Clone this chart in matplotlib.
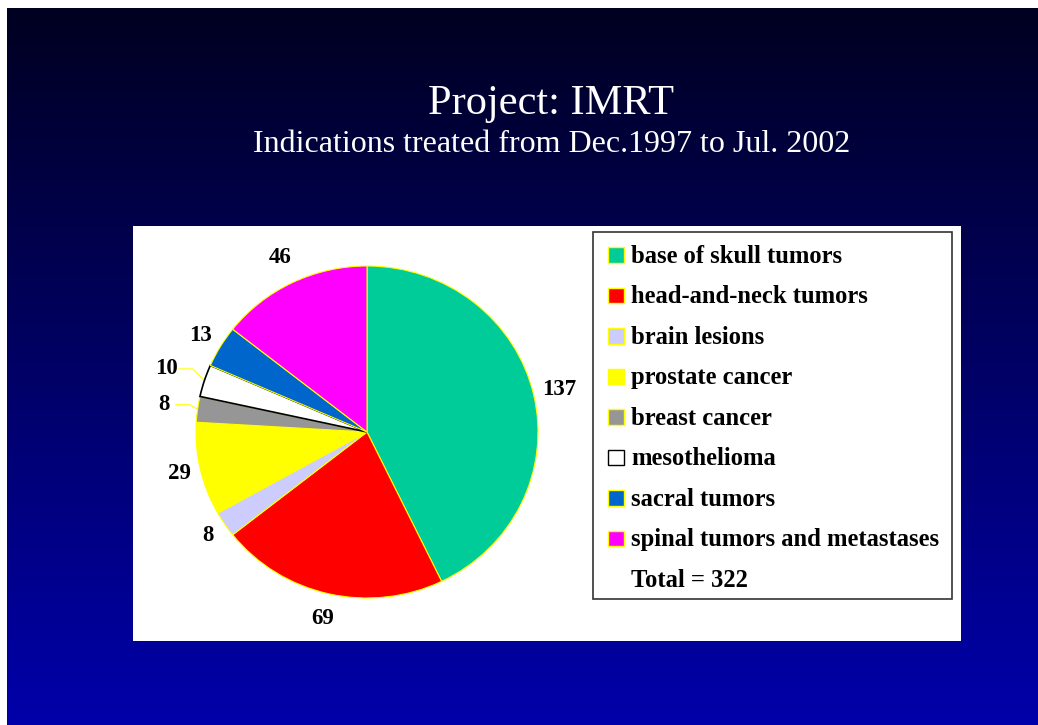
import numpy as np
import matplotlib
matplotlib.use("Agg")
import matplotlib.pyplot as plt
from matplotlib.patches import Rectangle

# ---- data ----
title = "Project: IMRT"
subtitle = "Indications treated from Dec.1997 to Jul. 2002"
categories = ["base of skull tumors", "head-and-neck tumors", "brain lesions",
              "prostate cancer", "breast cancer", "mesothelioma",
              "sacral tumors", "spinal tumors and metastases"]
counts = [137, 69, 8, 29, 8, 10, 13, 46]
total_label = "Total = 322"
colors = ["#00CC99", "#FF0000", "#CCCCFF", "#FFFF00", "#969696",
          "#FFFFFF", "#0066CC", "#FF00FF"]
label_dist = [1.155, 1.155, 1.12, 1.125, 1.2, 1.23, 1.135, 1.17]
leader = [False, False, False, False, True, True, False, False]

W, H = 1038, 725
fig = plt.figure(figsize=(W / 100, H / 100), dpi=100)
fig.patch.set_facecolor("white")
plt.rcParams["font.family"] = ["Liberation Serif", "DejaVu Serif"]


def fx(px):
    return px / W


def fy(py):
    return 1 - py / H


# ---- gradient slide background ----
ax_bg = fig.add_axes([fx(7), 0, 1 - fx(7), fy(8)], zorder=0)
t = np.linspace(0, 1, 256).reshape(-1, 1)
top = np.array([0.0, 0.0, 0.13])
bot = np.array([0.0, 0.0, 0.667])
grad = top[None, None, :] * (1 - t[:, :, None]) + bot[None, None, :] * t[:, :, None]
ax_bg.imshow(grad, aspect="auto", extent=[0, 1, 0, 1], interpolation="bilinear")
ax_bg.set_axis_off()

# ---- titles ----
fig.text(fx(551), fy(114), title, color="white", fontsize=30.5,
         ha="center", va="baseline", zorder=5)
fig.text(fx(552), fy(152), subtitle, color="white", fontsize=23,
         ha="center", va="baseline", zorder=5)

# ---- white panel ----
fig.add_artist(Rectangle((fx(133), fy(641)), (961 - 133) / W, (641 - 226) / H,
                         transform=fig.transFigure, facecolor="white",
                         edgecolor="none", zorder=1))

# ---- pie ----
cx, cy, rx, ry = 367, 432, 171, 166
ax = fig.add_axes([fx(cx - rx), fy(cy + ry), 2 * rx / W, 2 * ry / H], zorder=3)
wedges, _ = ax.pie(counts, colors=colors, startangle=90, counterclock=False,
                   wedgeprops=dict(edgecolor="#FFFF00", linewidth=0.8))
wedges[5].set_edgecolor("black")
wedges[5].set_linewidth(1.2)
ax.set_aspect("auto")
ax.set_xlim(-1, 1)
ax.set_ylim(-1, 1)
ax.set_axis_off()

for w, n, d, lead in zip(wedges, counts, label_dist, leader):
    th = np.deg2rad((w.theta1 + w.theta2) / 2)
    lx, ly = d * np.cos(th), d * np.sin(th)
    ax.text(lx, ly, str(n), fontsize=16.5, fontweight="bold", ha="center",
            va="center", clip_on=False)
    if lead:
        ex, ey = np.cos(th), np.sin(th)
        sx = lx + 0.07
        ax.plot([sx, sx + 0.08, ex], [ly, ly, ey], color="#FFFF00", lw=0.8,
                clip_on=False, zorder=0.5)

# ---- legend (manual box) ----
fig.add_artist(Rectangle((fx(593.3), fy(599)), (952 - 593.3) / W, (599 - 232.3) / H,
                         transform=fig.transFigure, facecolor="white",
                         edgecolor="#333333", linewidth=1.2, zorder=4))
base0, step = 262.7, 40.5
for i, (lab, c) in enumerate(zip(categories, colors)):
    b = base0 + i * step
    ec = "black" if c == "#FFFFFF" else "#FFFF00"
    fig.add_artist(Rectangle((fx(607.7), fy(b)), 16.6 / W, 15.3 / H,
                             transform=fig.transFigure, facecolor=c,
                             edgecolor=ec, linewidth=1.0, zorder=5))
    fig.text(fx(631), fy(b), lab, fontsize=17.7, fontweight="bold",
             ha="left", va="baseline", zorder=6)
fig.text(fx(631), fy(base0 + 8 * step), total_label, fontsize=17.7,
         fontweight="bold", ha="left", va="baseline", zorder=6)

fig.savefig("out.png", dpi=100, facecolor=fig.get_facecolor())
